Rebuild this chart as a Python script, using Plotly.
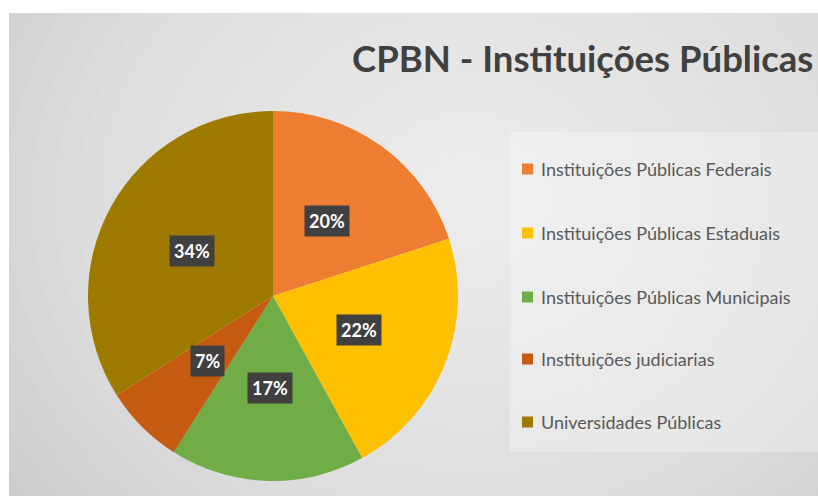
import math
import plotly.graph_objects as go

# ---- data ----
categories = [
    "Instituições Públicas Federais",
    "Instituições Públicas Estaduais",
    "Instituições Públicas Municipais",
    "Instituições judiciarias",
    "Universidades Públicas",
]
values = [20, 22, 17, 7, 34]
colors = ["#ED7D31", "#FFC000", "#70AD47", "#C55A11", "#9E7A00"]
title_text = "CPBN - Instituições Públicas"

W, H = 818, 496


def fx(x):
    return x / W


def fy(y):
    return 1 - y / H


# pie geometry (window pixels)
cx, cy, r = 273, 296, 185

fig = go.Figure()
fig.add_trace(go.Pie(
    labels=categories,
    values=values,
    marker=dict(colors=colors, line=dict(width=0)),
    sort=False,
    direction="clockwise",
    rotation=0,
    textinfo="none",
    showlegend=False,
    domain=dict(x=[fx(cx - r), fx(cx + r)], y=[fy(cy + r), fy(cy - r)]),
    hovertemplate="%{label}: %{percent}<extra></extra>",
))

shapes = []
# background panel with radial-ish gradient
shapes.append(dict(type="rect", xref="paper", yref="paper", x0=0, x1=1, y0=0, y1=1,
                   fillcolor="#cdcdcd", line=dict(width=0), layer="below"))
gx, gy = 470, 200
for i in range(22):
    rad = 560 - i * 24
    shapes.append(dict(type="circle", xref="paper", yref="paper",
                       x0=fx(gx - rad), x1=fx(gx + rad),
                       y0=fy(gy + rad * 0.85), y1=fy(gy - rad * 0.85),
                       fillcolor="rgba(255,255,255,0.055)", line=dict(width=0), layer="below"))
# legend panel
shapes.append(dict(type="rect", xref="paper", yref="paper",
                   x0=fx(510), x1=1, y0=fy(452), y1=fy(132),
                   fillcolor="rgba(255,255,255,0.28)", line=dict(width=0), layer="below"))
# white margins (top and left)
shapes.append(dict(type="rect", xref="paper", yref="paper", x0=0, x1=1, y0=fy(13), y1=1,
                   fillcolor="white", line=dict(width=0), layer="below"))
shapes.append(dict(type="rect", xref="paper", yref="paper", x0=0, x1=fx(9), y0=0, y1=1,
                   fillcolor="white", line=dict(width=0), layer="below"))

annotations = []
# title
annotations.append(dict(text="<b>" + title_text + "</b>", xref="paper", yref="paper",
                        x=fx(350), y=fy(58), xanchor="left", yanchor="middle",
                        showarrow=False, font=dict(family="Lato", size=36.5, color="#404040")))

# data labels at half radius along each slice's mid angle
total = sum(values)
cum = 0
for v in values:
    mid = (cum + v / 2) / total * 2 * math.pi
    cum += v
    px = cx + 0.5 * r * math.sin(mid)
    py = cy - 0.5 * r * math.cos(mid)
    annotations.append(dict(text="<b>%d%%</b>" % round(v / total * 100), xref="paper", yref="paper",
                            x=fx(px), y=fy(py), xanchor="center", yanchor="middle",
                            showarrow=False, bgcolor="#404040", borderpad=4,
                            font=dict(family="Lato", size=18, color="white")))

# legend
leg_y = [169, 233, 297, 359, 422]
for lab, col, ly in zip(categories, colors, leg_y):
    shapes.append(dict(type="rect", xref="paper", yref="paper",
                       x0=fx(522), x1=fx(533), y0=fy(ly + 5.5), y1=fy(ly - 5.5),
                       fillcolor=col, line=dict(width=0)))
    annotations.append(dict(text=lab, xref="paper", yref="paper",
                            x=fx(539), y=fy(ly), xanchor="left", yanchor="middle",
                            showarrow=False, font=dict(family="Lato", size=18, color="#595959")))

fig.update_layout(
    width=W, height=H,
    margin=dict(l=0, r=0, t=0, b=0),
    paper_bgcolor="white",
    plot_bgcolor="rgba(0,0,0,0)",
    shapes=shapes,
    annotations=annotations,
    showlegend=False,
)

fig.write_html(
    "out.html",
    config={"displayModeBar": False},
    post_script="document.body.style.margin='0';document.body.style.overflow='hidden';",
)
